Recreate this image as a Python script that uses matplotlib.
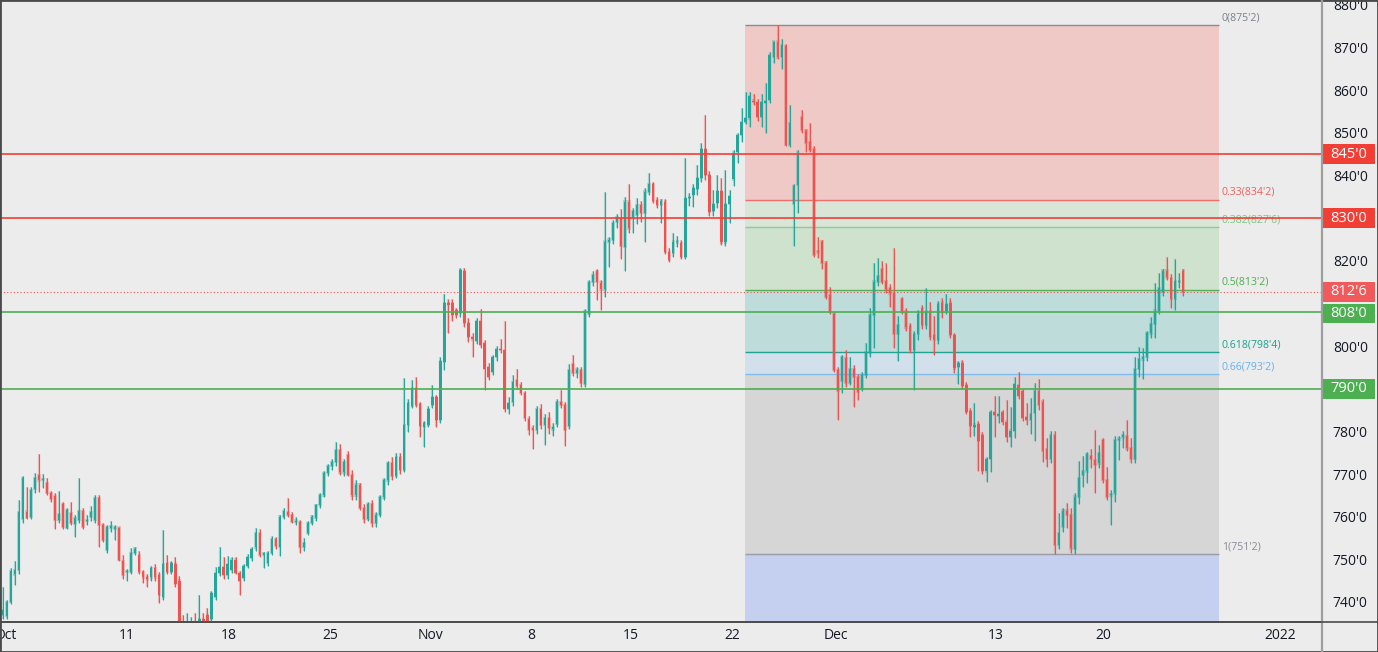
import matplotlib.pyplot as plt
import matplotlib.transforms as mtransforms
from matplotlib.patches import Rectangle
from matplotlib.lines import Line2D
from matplotlib.ticker import FuncFormatter
import numpy as np

plt.rcParams['font.family'] = ['Open Sans', 'DejaVu Sans']

# OHLC, one bar every ~4px, Oct 1 -> Dec 27 (prices in cents)
opens = [
    737, 736.7, 740, 746.5, 747.5, 759.5, 761.2, 760, 766.5, 769.8,
    768.6, 767.9, 765.6, 764.9, 759.2, 763, 757.4, 760.9, 758.3, 759.2,
    761.3, 759, 760, 759.2, 764.4, 758, 752.2, 757.4, 757.2, 757.4,
    749.6, 747, 747, 751.5, 751, 747, 745.8, 745.8, 748, 746.3,
    741.2, 749.1, 747, 749, 745, 735, 732, 733, 734, 733.5,
    736, 737, 736, 741.2, 746.8, 748.2, 746.3, 747.5, 749.9, 746.8,
    745.6, 748.4, 750.3, 752.8, 756.2, 751, 749.1, 751.5, 754.8, 753,
    760, 761, 760.4, 758.8, 758.8, 752.9, 756.2, 758.5, 759.7, 762.7,
    765, 770.2, 771.9, 772.8, 775.6, 770.4, 774.5, 769.8, 765, 767.5,
    762, 759.5, 763, 758.5, 760.5, 764.5, 768.5, 772.5, 769.5, 774,
    771, 781.5, 786, 790.2, 786.4, 781, 781.5, 786.2, 788.1, 782.7,
    796.3, 810.1, 810.1, 808.5, 807.8, 817.6, 805.4, 802.1, 801.2, 805.8,
    800.7, 795.1, 793.9, 797.4, 799.3, 799.1, 785.3, 786.9, 792, 790.9,
    789, 782.9, 780.8, 780.3, 785.3, 781.5, 783.1, 780.5, 781.7, 786.9,
    786.2, 781.3, 795.8, 793.7, 794.4, 791.1, 807.5, 815, 817.5, 814.9,
    813.3, 824.5, 825, 829.2, 830, 823.3, 833.9, 830.2, 830.7, 833.1,
    831.3, 836.2, 838, 834.3, 833.1, 833.9, 822.1, 821.8, 824.3, 824.1,
    821, 834.7, 835.4, 836.8, 839.4, 846.2, 840.1, 831.8, 833.6, 836.4,
    824.3, 833.3, 839.1, 845.6, 849.5, 852.6, 853.4, 857.5, 857.3, 853.8,
    857, 857.7, 867.9, 871.4, 867.9, 870.4, 847.2, 833.3, 837.8, 853.7,
    850.5, 847.9, 846.2, 822.2, 824.5, 819.6, 812, 807.5, 794.4, 791.9,
    797.1, 791.3, 794.6, 792.8, 790.1, 793.2, 798.5, 807.3, 815.1, 818,
    815.3, 813.6, 812.4, 802.8, 811, 808.1, 804.7, 799.1, 802.8, 808.9,
    805, 808.1, 802.6, 801.4, 810.2, 808.3, 810.2, 802.6, 795.2, 796.1,
    790.9, 784.8, 781.1, 781.7, 779.2, 770.6, 773.5, 784.6, 783.7, 784.6,
    782.3, 778.8, 780.2, 790.9, 789.5, 783.3, 782.7, 784.4, 789.5, 787,
    775.8, 773.5, 779.2, 753.4, 757.6, 761.4, 760.4, 752.4, 764.7, 769.8,
    770.6, 774.2, 773.3, 772.5, 778, 768.6, 765, 765.5, 778, 778.6,
    778.9, 776, 773.5, 794.6, 796.9, 797.4, 803, 805.2, 808.3, 812.8,
    817.7, 815.9, 811, 815, 817.7,
]
highs = [
    743.5, 740.5, 748, 749.6, 764, 769.5, 767, 767, 770.2, 774.6,
    770, 769, 766, 765.5, 766, 763.5, 762, 763.5, 760.5, 769,
    762, 760.5, 762.5, 765, 765, 758.5, 758, 759, 758, 757.6,
    751, 747.8, 752.6, 753, 752, 747.5, 746.5, 748.5, 749, 747,
    756.8, 751, 749.6, 750.5, 746, 737, 737.4, 736.5, 737.4, 741.6,
    737.5, 738.5, 742.5, 748.2, 752.9, 750.5, 750.8, 750.5, 750.5, 747.2,
    749, 751.2, 752.8, 757.3, 757, 751.8, 752, 755.5, 755.2, 760.5,
    762, 764.4, 761, 760, 759.2, 755, 759, 760.5, 763, 765.5,
    770.6, 772.3, 773.5, 777.5, 777, 773.5, 775.5, 771, 768.5, 768,
    763, 763.5, 764, 761, 765, 769, 773, 774, 775, 775,
    792.6, 787.5, 792, 792.8, 787, 782.5, 786, 790.9, 788.5, 797.5,
    812.2, 811, 811, 809, 818.3, 818.3, 806.5, 803, 806.5, 808.6,
    801.5, 796, 798, 800, 801.6, 805.9, 788, 793.2, 794.6, 791.5,
    789.5, 783.5, 781.5, 786, 786.4, 784, 784.5, 782, 787.5, 789.7,
    787, 795.8, 797.9, 795, 795, 808.8, 815.5, 817.5, 818, 815.5,
    836.2, 825.7, 829.5, 831, 832.1, 835, 838, 832.5, 834.7, 834,
    837, 840.7, 838.5, 835, 834.5, 834.5, 823, 826.5, 825.8, 825,
    844, 836, 838, 842.5, 847.7, 854.2, 841, 836.5, 840.1, 839.5,
    841.3, 836.5, 846, 850, 855.8, 859.7, 859.7, 859.1, 858, 859.1,
    861.6, 869, 871.6, 875.25, 872, 870.8, 856.6, 838, 846, 855.4,
    851, 852.3, 847, 825.7, 825, 820, 813.9, 808, 795, 798,
    799.1, 797.4, 795.5, 793.5, 794, 800.7, 808.9, 819.4, 820.6, 820,
    819.6, 814.5, 822.9, 807, 811.5, 809, 805.5, 803.5, 808.5, 809.6,
    813.6, 810.4, 807, 810.5, 811.2, 812.2, 811.3, 803, 796.6, 796.8,
    791.5, 785.5, 786.6, 782.5, 779.8, 774, 785, 788.3, 788.3, 785,
    787.4, 785.8, 792.7, 794, 790, 786.6, 787.8, 791.4, 792.4, 787.5,
    778.4, 780, 780, 760.8, 762, 763.1, 762, 765.5, 773.1, 774.2,
    775.2, 775.8, 780.3, 776.8, 778.5, 771.7, 766.3, 779, 779, 780,
    782.7, 778.5, 797.5, 799.9, 799.5, 803.5, 806.9, 814.7, 817.2, 818,
    820.8, 817, 820.4, 817.1, 818.2,
]
lows = [
    736, 736, 739.5, 744, 746.5, 758.5, 759.5, 759.5, 765.5, 765.8,
    766.7, 765, 763.5, 757.1, 758.5, 757, 757, 758, 755.2, 758.5,
    757, 758, 759, 758.5, 752.9, 754, 751.5, 756.5, 754.5, 749.5,
    745.5, 745, 746.5, 751, 746.5, 744.5, 743.5, 745, 745, 739.8,
    740.5, 746.5, 746.5, 743.5, 733, 731, 730, 731, 732, 732,
    733, 733, 735, 740.5, 746, 745.5, 745.5, 746.8, 746.5, 741.6,
    745, 748, 749.5, 752, 750.5, 748, 748.5, 751, 752.5, 750.8,
    759.5, 760, 758.5, 758, 751.5, 752, 755.8, 758, 759, 762,
    764.5, 769.5, 771, 772, 769.8, 769.5, 769.5, 764, 764, 761.5,
    758.5, 759, 757.5, 757.5, 760, 764, 767.5, 768.5, 769, 770,
    770.5, 779.9, 785.5, 785.8, 778.8, 776.4, 781, 785.5, 781, 782,
    794.5, 803, 806, 806.5, 806.8, 804.5, 801, 797.5, 800.5, 799.5,
    789.8, 792, 793.2, 796.5, 798.5, 784.5, 784, 786, 790, 788.5,
    782.5, 779.2, 775.9, 779.5, 780.5, 776.8, 779.5, 779, 781, 785.5,
    776.6, 780.5, 793, 792.5, 790.5, 790.5, 806.9, 814, 810.8, 808.5,
    811.5, 818.5, 824, 827.6, 820.4, 817.5, 826.5, 826.6, 828.6, 829.2,
    824.5, 835.5, 833.5, 832.3, 828.8, 821.5, 819.8, 821, 823.3, 820.5,
    820.5, 832.9, 832.6, 835.5, 838.5, 839, 830.5, 830.4, 832.3, 823.8,
    823.5, 828.8, 837.5, 843, 847.9, 852, 851.5, 856.5, 852.9, 851.3,
    849.9, 857, 866.5, 867.3, 865.1, 847, 846.8, 823.5, 831.3, 850,
    845.6, 845.5, 821, 820.6, 818.2, 811, 807.5, 794, 782.7, 789,
    790.5, 790.8, 785.8, 787.4, 789.5, 792.5, 797.5, 799.5, 814, 814.5,
    812.5, 809.2, 799.5, 796.6, 807.5, 803.5, 798.5, 789.7, 801.5, 804,
    804, 801.5, 797.9, 800.5, 806.5, 807.5, 802, 793.8, 791, 790,
    784, 778.8, 778.9, 770.6, 770, 768.2, 770.5, 778.6, 781.9, 781.5,
    777.4, 776.3, 778.5, 787.5, 782.5, 781.5, 779.4, 777.8, 785, 772.9,
    771.7, 772.5, 751.25, 752.5, 756.5, 757.3, 751.5, 751.25, 763, 767,
    768, 771.3, 765.5, 771.5, 768, 764, 758, 763.5, 773.3, 776,
    775.5, 772.5, 772.5, 792.7, 792.2, 796.5, 801.8, 801.8, 807.5, 811.8,
    815.5, 808.9, 808.5, 813.6, 811.8,
]
closes = [
    738, 740, 747.3, 747.5, 761, 769, 759.8, 766.2, 769, 768.5,
    768.7, 765.6, 764.2, 759.2, 760.6, 757.6, 761.6, 758.5, 759.7, 761.3,
    757.6, 759.1, 761, 764.4, 758, 754.5, 757.6, 757.8, 757.6, 749.9,
    746.3, 747.1, 751.5, 752.5, 747, 745.8, 745.3, 748, 745.8, 741.6,
    748.9, 747, 749.1, 744.2, 734, 732, 733, 734, 733.5, 736,
    734, 734.5, 742, 746.8, 748.2, 746.3, 748.8, 749.9, 746.8, 745,
    748.4, 750.5, 752.4, 756.2, 751, 751.4, 751.5, 754.8, 753.1, 760,
    761.3, 760.4, 758.8, 759, 752.9, 753.8, 758.5, 760, 762.7, 765,
    770.2, 771.9, 772.8, 775.6, 770.4, 772.8, 769.8, 765, 767.5, 762,
    759.5, 763, 758.5, 760.5, 764.5, 768.5, 772.5, 769.5, 774, 771,
    781.5, 786.7, 790.2, 786.2, 781.3, 782, 785.2, 788.1, 782.7, 796.5,
    810.1, 809.7, 807.3, 807.3, 817.9, 805.4, 802.1, 801.6, 805.8, 800.3,
    794.6, 792.8, 797.4, 799.3, 799.1, 785.3, 786.7, 791.6, 790.6, 789,
    783.1, 780.3, 780.3, 785.3, 781.5, 783.1, 780.8, 781, 786.9, 786.2,
    780.3, 794.4, 793.7, 794.5, 791.3, 808.2, 815, 816.7, 815.1, 813.3,
    824.5, 825, 828.8, 830.2, 823.5, 833.9, 827.6, 831.6, 833.1, 831.3,
    836.2, 838, 834.1, 833.1, 834.1, 822.1, 820.2, 824.5, 824.4, 821,
    834.7, 835, 837, 839.4, 846.2, 840.1, 831.5, 833.3, 836.4, 824.3,
    833.3, 835.2, 845.4, 849.5, 852.6, 853.4, 858.7, 857.3, 853.8, 857.3,
    857.5, 868.3, 871.4, 867.7, 870.6, 847.2, 852.3, 837.6, 845.4, 850.7,
    847.7, 846, 821.4, 822, 819.6, 811.6, 808.1, 794.4, 789.5, 797.4,
    791.3, 794.6, 792.8, 789.3, 793.2, 798.5, 807.3, 815.1, 816.4, 815.1,
    813.3, 812.4, 802.8, 805, 808.1, 804.4, 799.1, 802.8, 807.5, 805,
    808.1, 802.2, 801.4, 809.9, 808.1, 809.9, 802.6, 794.8, 796, 790.6,
    784.6, 781.3, 781.6, 777.8, 770.8, 773.5, 784.6, 783.8, 784, 782.3,
    778.8, 780.2, 791.1, 788.3, 783.1, 782.7, 784.1, 789.5, 786.2, 775.5,
    773.5, 779.2, 753.4, 756.2, 761.4, 760.4, 752.6, 764.7, 769, 770.6,
    774.7, 773.5, 772.1, 774.9, 768.6, 764.7, 765.2, 778, 778.3, 779.2,
    776, 773.5, 794.6, 796.9, 797.4, 803.1, 805.2, 808.3, 813.6, 817.7,
    816.1, 811, 815.3, 815.3, 812.75,
]

date_ticks = [0.6, 31.0, 56.4, 81.5, 106.4, 131.6, 156.5, 181.6, 207.6, 247.2, 274.0, 318.1]
date_labels = ["Oct", "11", "18", "25", "Nov", "8", "15", "22", "Dec", "13", "20", "2022"]

# fibonacci retracement 875'2 -> 751'2
fib_ratios = [0, 0.33, 0.382, 0.5, 0.618, 0.66, 1]
fib_prices = [875.25, 834.33, 827.88, 813.25, 798.62, 793.41, 751.25]
fib_labels = ["0(875'2)", "0.33(834'2)", "0.382(827'6)", "0.5(813'2)",
              "0.618(798'4)", "0.66(793'2)", "1(751'2)"]
fib_line_colors = ['#8a8d96', '#ef6f6c', '#8fcb91', '#55b058', '#21a392', '#7dbdf2', '#9a9ca3']
fib_text_colors = ['#7d808a', '#ef5f5c', '#7cc47f', '#4caf50', '#17a08c', '#64b0f0', '#8a8d96']
fib_fill_colors = ['#eec9c6', '#d9e5d6', '#cfe2cd', '#bddcda', '#d1e0eb', '#d6d6d7']
fib_below_color = '#c5cff0'
fib_start, fib_end = 184.9, 302.9

levels = [845, 830, 808, 790]
level_colors = ['#f23f36', '#f23f36', '#4caf50', '#4caf50']
last_price = 812.75
hidden_ticks = [790, 810, 830]   # covered by the price tags

up_col, dn_col = '#26a69a', '#ef5350'
bg = '#ececec'

fig = plt.figure(figsize=(13.78, 6.52), dpi=100, facecolor=bg)
ax = fig.add_axes([0, 30 / 652, 1321 / 1378, 622 / 652], facecolor=bg)

ymin, ymax = 735.3, 881.17
ax.set_ylim(ymin, ymax)
ax.set_xlim(-0.67, 328.3)

# fib zones
for k in range(len(fib_fill_colors)):
    ax.fill_between([fib_start, fib_end], fib_prices[k + 1], fib_prices[k],
                    color=fib_fill_colors[k], lw=0, zorder=1)
ax.fill_between([fib_start, fib_end], ymin, fib_prices[-1], color=fib_below_color, lw=0, zorder=1)
for p, lc, tc, lab in zip(fib_prices, fib_line_colors, fib_text_colors, fib_labels):
    ax.hlines(p, fib_start, fib_end, color=lc, lw=1.0, zorder=2)
    ax.text(fib_end + 0.7, p + 0.45, lab, color=tc, fontsize=7.6, ha='left', va='bottom', zorder=5)

# candles (faint wider ghost + crisp candle, like the screenshot)
n = min(len(opens), len(highs), len(lows), len(closes))
o = np.array(opens[:n]); h = np.array(highs[:n]); l = np.array(lows[:n]); c = np.array(closes[:n])
x = np.arange(n)
cols = np.where(c >= o, up_col, dn_col)
body_lo = np.minimum(o, c)
body_h = np.maximum(np.abs(c - o), 0.25)
ax.vlines(x, l, h, colors=cols, lw=1.6, alpha=0.3, zorder=3)
ax.bar(x, body_h + 0.6, bottom=body_lo - 0.3, width=0.85, color=cols, lw=0, alpha=0.3, zorder=3)
ax.vlines(x, l, h, colors=cols, lw=0.8, zorder=4)
ax.bar(x, body_h, bottom=body_lo, width=0.58, color=cols, lw=0, zorder=4)

# horizontal levels
for lv, lc in zip(levels, level_colors):
    ax.axhline(lv, color=lc, lw=1.2, zorder=6)
ax.axhline(last_price, color='#ef5350', lw=0.8, ls=(0, (1, 2)), zorder=6)

# axes styling
for s in ['top', 'left', 'right']:
    ax.spines[s].set_visible(False)
ax.spines['bottom'].set_color('#4a4a4a')
ax.spines['bottom'].set_linewidth(1.2)
ax.yaxis.tick_right()
ax.set_yticks(np.arange(740, 890, 10))
ax.yaxis.set_major_formatter(FuncFormatter(
    lambda v, _: '' if int(round(v)) in hidden_ticks else f"{int(round(v))}'0"))
ax.tick_params(axis='y', length=0, pad=8.5, labelsize=10, labelcolor='#131722')
ax.set_xticks(date_ticks)
ax.set_xticklabels(date_labels)
ax.tick_params(axis='x', length=0, pad=4.5, labelsize=10, labelcolor='#131722')

# price tags on the right scale
blend = mtransforms.blended_transform_factory(ax.transAxes, ax.transData)
tag_h = 4.6
tags = [(845, "845'0", '#f23f36'), (830, "830'0", '#f23f36'),
        (last_price, "812'6", '#f05a5a'), (808, "808'0", '#4caf50'), (790, "790'0", '#4caf50')]
for p, txt, col in tags:
    yc = p - 0.35 if p == 808 else p
    ax.add_patch(Rectangle((1323 / 1321, yc - tag_h / 2), 52 / 1321, tag_h, transform=blend,
                           facecolor=col, edgecolor='none', clip_on=False, zorder=10))
    ax.text(1349 / 1321, yc, txt, transform=blend, ha='center', va='center', color='white',
            fontsize=10.5, clip_on=False, zorder=11)

# separators / frame
fig.add_artist(Line2D([1321.5 / 1378] * 2, [0, 1], color='#9e9e9e', lw=1.6))
fig.add_artist(Line2D([0, 1], [30 / 652] * 2, color='#4a4a4a', lw=1.2))
fig.add_artist(Rectangle((0, 0), 1, 1, transform=fig.transFigure, fill=False,
                         edgecolor='#4a4a4a', lw=2.0))

fig.savefig('out.png', dpi=100, facecolor=bg)
